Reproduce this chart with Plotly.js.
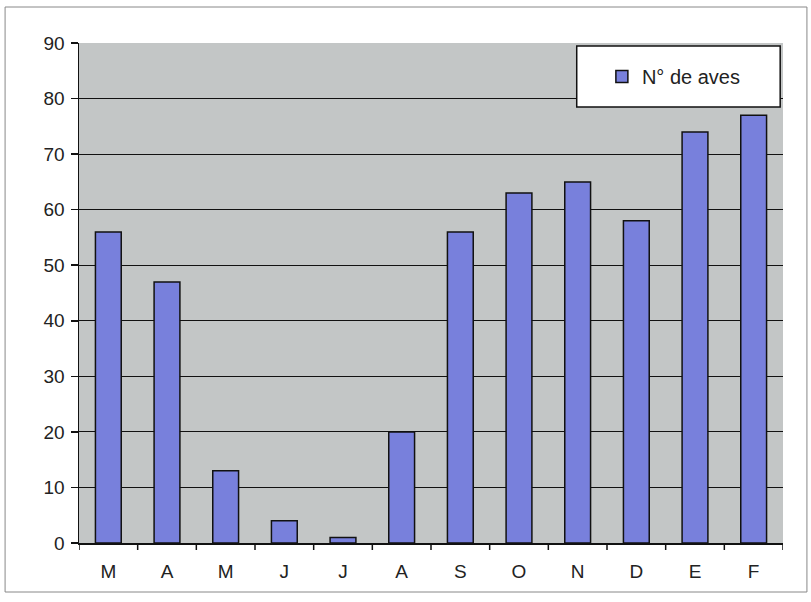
<!DOCTYPE html>
<html>
<head>
<meta charset="utf-8">
<script src="https://cdn.plot.ly/plotly-3.0.1.min.js"></script>
<style>
  html, body { margin: 0; padding: 0; background: #ffffff; }
  #chart { width: 811px; height: 602px; }
</style>
</head>
<body>
<div id="chart"></div>
<script>
const months = ["M", "A", "M", "J", "J", "A", "S", "O", "N", "D", "E", "F"];
const aves = [56, 47, 13, 4, 1, 20, 56, 63, 65, 58, 74, 77];
const seriesName = "N° de aves";
const yTicks = [0, 10, 20, 30, 40, 50, 60, 70, 80, 90];

// unique x positions so repeated month letters stay separate categories
const xPos = months.map((m, i) => i);

const trace = {
  type: "bar",
  x: xPos,
  y: aves,
  name: seriesName,
  marker: { color: "#7880dc", line: { color: "#111111", width: 1.5 } },
  showlegend: true
};

const layout = {
  width: 811,
  height: 602,
  margin: { l: 79, r: 28, t: 43, b: 59 },
  paper_bgcolor: "#ffffff",
  plot_bgcolor: "#c3c6c6",
  bargap: 0.56,
  font: { family: "Liberation Sans, Arial, sans-serif", size: 19, color: "#222222" },
  xaxis: {
    range: [-0.5, 11.5],
    tickmode: "array",
    tickvals: xPos,
    ticktext: months,
    showgrid: false,
    zeroline: false,
    showline: true,
    linecolor: "#111111",
    linewidth: 1.5,
    ticks: "",
    ticklabelstandoff: 11,
    tickfont: { family: "Liberation Sans, Arial, sans-serif", size: 19, color: "#222222" }
  },
  yaxis: {
    range: [0, 90],
    tickmode: "array",
    tickvals: yTicks,
    showgrid: true,
    gridcolor: "#111111",
    gridwidth: 1.2,
    zeroline: false,
    showline: true,
    linecolor: "#111111",
    linewidth: 1.5,
    ticks: "outside",
    ticklen: 7,
    tickcolor: "#111111",
    tickwidth: 1.5,
    ticklabelstandoff: 2,
    tickfont: { family: "Liberation Sans, Arial, sans-serif", size: 19, color: "#222222" }
  },
  showlegend: true,
  legend: {
    x: 0.845, y: 0.933, xanchor: "center", yanchor: "middle",
    bgcolor: "rgba(0,0,0,0)",
    borderwidth: 0,
    font: { size: 20, color: "#222222" },
    itemwidth: 30
  },
  shapes: [
    // outer chart border
    { type: "rect", xref: "paper", yref: "paper", x0: -0.105, x1: 1.034, y0: -0.098, y1: 1.072,
      line: { color: "#888888", width: 1 }, fillcolor: "rgba(0,0,0,0)", layer: "below" },
    // legend box
    { type: "rect", xref: "paper", yref: "paper", x0: 0.707, x1: 0.996, y0: 0.872, y1: 0.994,
      line: { color: "#111111", width: 1.5 }, fillcolor: "#ffffff", layer: "above" }
  ]
};

// x tick marks between categories
for (let i = 0; i <= months.length; i++) {
  layout.shapes.push({
    type: "line", xref: "x", yref: "paper",
    x0: i - 0.5, x1: i - 0.5, y0: 0, y1: -0.014,
    line: { color: "#111111", width: 1.5 }
  });
}

Plotly.newPlot("chart", [trace], layout, { displayModeBar: false, staticPlot: true });
</script>
</body>
</html>
